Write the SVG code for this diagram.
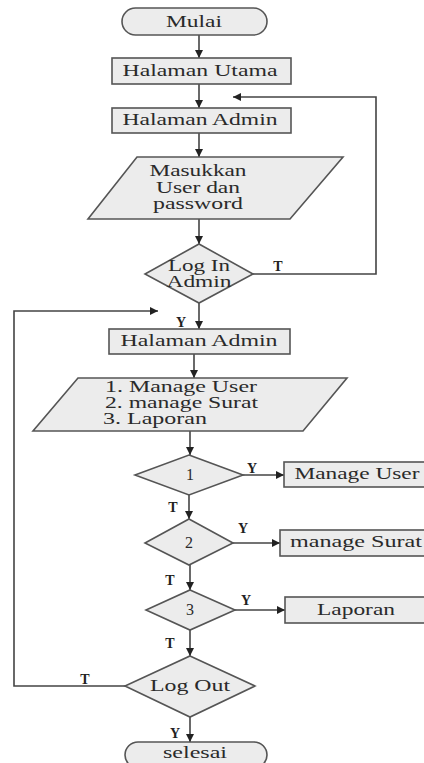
<svg xmlns="http://www.w3.org/2000/svg" width="424" height="763" viewBox="0 0 424 763">
<defs>
<marker id="ah" viewBox="0 0 10 10" refX="10" refY="5" markerWidth="8" markerHeight="8" markerUnits="userSpaceOnUse" orient="auto">
<path d="M0,0 L10,5 L0,10 z" fill="#222"/>
</marker>
<style>
.s{fill:#ececec;stroke:#555;stroke-width:1.6}
.t{font-family:"Liberation Serif","Times New Roman",serif;font-size:16px;fill:#2a2a2a}
.l{font-family:"Liberation Serif","Times New Roman",serif;font-size:14px;font-weight:bold;fill:#222}
.c{fill:none;stroke:#444;stroke-width:1.6}
</style>
</defs>
<rect width="424" height="763" fill="#fff"/>
<g id="connectors">
<path class="c" d="M199,35 V58" marker-end="url(#ah)"/>
<path class="c" d="M199,84 V108" marker-end="url(#ah)"/>
<path class="c" d="M199,133 V157" marker-end="url(#ah)"/>
<path class="c" d="M199,219 V244" marker-end="url(#ah)"/>
<path class="c" d="M253,274 H376 V97 H233" marker-end="url(#ah)"/>
<path class="c" d="M199,303 V329" marker-end="url(#ah)"/>
<path class="c" d="M194,354 V378" marker-end="url(#ah)"/>
<path class="c" d="M190,431 V455" marker-end="url(#ah)"/>
<path class="c" d="M243,475 H284" marker-end="url(#ah)"/>
<path class="c" d="M189,495 V519" marker-end="url(#ah)"/>
<path class="c" d="M233,543 H280" marker-end="url(#ah)"/>
<path class="c" d="M190,565 V590" marker-end="url(#ah)"/>
<path class="c" d="M235,610 H285" marker-end="url(#ah)"/>
<path class="c" d="M190,630 V656" marker-end="url(#ah)"/>
<path class="c" d="M125,686 H14 V311 H158" marker-end="url(#ah)"/>
<path class="c" d="M190,717 V742" marker-end="url(#ah)"/>
<text class="l" x="278" y="271" text-anchor="middle">T</text>
<text class="l" x="181" y="327" text-anchor="middle">Y</text>
<text class="l" x="252" y="473" text-anchor="middle">Y</text>
<text class="l" x="173" y="512" text-anchor="middle">T</text>
<text class="l" x="243" y="533" text-anchor="middle">Y</text>
<text class="l" x="170" y="585" text-anchor="middle">T</text>
<text class="l" x="246" y="605" text-anchor="middle">Y</text>
<text class="l" x="170" y="648" text-anchor="middle">T</text>
<text class="l" x="85" y="684" text-anchor="middle">T</text>
<text class="l" x="175" y="738" text-anchor="middle">Y</text>
</g>
<g id="mulai">
<rect class="s" x="122" y="8" width="145" height="27" rx="13.5"/>
<text class="t" x="194" y="27" text-anchor="middle" textLength="56" lengthAdjust="spacingAndGlyphs">Mulai</text>
</g>
<g id="halaman-utama">
<rect class="s" x="112" y="58" width="179" height="26"/>
<text class="t" x="200" y="76" text-anchor="middle" textLength="155" lengthAdjust="spacingAndGlyphs">Halaman Utama</text>
</g>
<g id="halaman-admin-1">
<rect class="s" x="112" y="108" width="179" height="25"/>
<text class="t" x="200" y="125" text-anchor="middle" textLength="155" lengthAdjust="spacingAndGlyphs">Halaman Admin</text>
</g>
<g id="input-login">
<polygon class="s" points="137,157 343,157 290,219 88,219"/>
<text class="t" x="198" y="176" text-anchor="middle" textLength="97" lengthAdjust="spacingAndGlyphs">Masukkan</text>
<text class="t" x="198" y="193" text-anchor="middle" textLength="84" lengthAdjust="spacingAndGlyphs">User dan</text>
<text class="t" x="198" y="209" text-anchor="middle" textLength="90" lengthAdjust="spacingAndGlyphs">password</text>
</g>
<g id="login-admin">
<polygon class="s" points="199,244 253,274 199,303 145,274"/>
<text class="t" x="199" y="271" text-anchor="middle" textLength="62" lengthAdjust="spacingAndGlyphs">Log In</text>
<text class="t" x="199" y="287" text-anchor="middle" textLength="65" lengthAdjust="spacingAndGlyphs">Admin</text>
</g>
<g id="halaman-admin-2">
<rect class="s" x="109" y="329" width="181" height="25"/>
<text class="t" x="199" y="346" text-anchor="middle" textLength="157" lengthAdjust="spacingAndGlyphs">Halaman Admin</text>
</g>
<g id="menu">
<polygon class="s" points="78,378 347,378 303,431 33,431"/>
<text class="t" x="105" y="392" textLength="152" lengthAdjust="spacingAndGlyphs">1. Manage User</text>
<text class="t" x="105" y="408" textLength="153" lengthAdjust="spacingAndGlyphs">2. manage Surat</text>
<text class="t" x="103" y="424" textLength="104" lengthAdjust="spacingAndGlyphs">3. Laporan</text>
</g>
<g id="pilih-1">
<polygon class="s" points="189,455 243,475 189,495 135,475"/>
<text class="t" x="190" y="480" text-anchor="middle">1</text>
</g>
<g id="manage-user">
<rect class="s" x="284" y="462" width="145" height="25"/>
<text class="t" x="357" y="479" text-anchor="middle" textLength="125" lengthAdjust="spacingAndGlyphs">Manage User</text>
</g>
<g id="pilih-2">
<polygon class="s" points="189,519 233,543 189,565 145,543"/>
<text class="t" x="189" y="548" text-anchor="middle">2</text>
</g>
<g id="manage-surat">
<rect class="s" x="280" y="530" width="149" height="26"/>
<text class="t" x="356" y="547" text-anchor="middle" textLength="132" lengthAdjust="spacingAndGlyphs">manage Surat</text>
</g>
<g id="pilih-3">
<polygon class="s" points="190,590 235,610 190,630 146,610"/>
<text class="t" x="190" y="615" text-anchor="middle">3</text>
</g>
<g id="laporan">
<rect class="s" x="285" y="597" width="144" height="26"/>
<text class="t" x="356" y="615" text-anchor="middle" textLength="78" lengthAdjust="spacingAndGlyphs">Laporan</text>
</g>
<g id="logout">
<polygon class="s" points="190,656 255,686 190,717 125,686"/>
<text class="t" x="190" y="691" text-anchor="middle" textLength="80" lengthAdjust="spacingAndGlyphs">Log Out</text>
</g>
<g id="selesai">
<rect class="s" x="125" y="742" width="142" height="26" rx="13"/>
<text class="t" x="195" y="758" text-anchor="middle" textLength="64" lengthAdjust="spacingAndGlyphs">selesai</text>
</g>
</svg>
